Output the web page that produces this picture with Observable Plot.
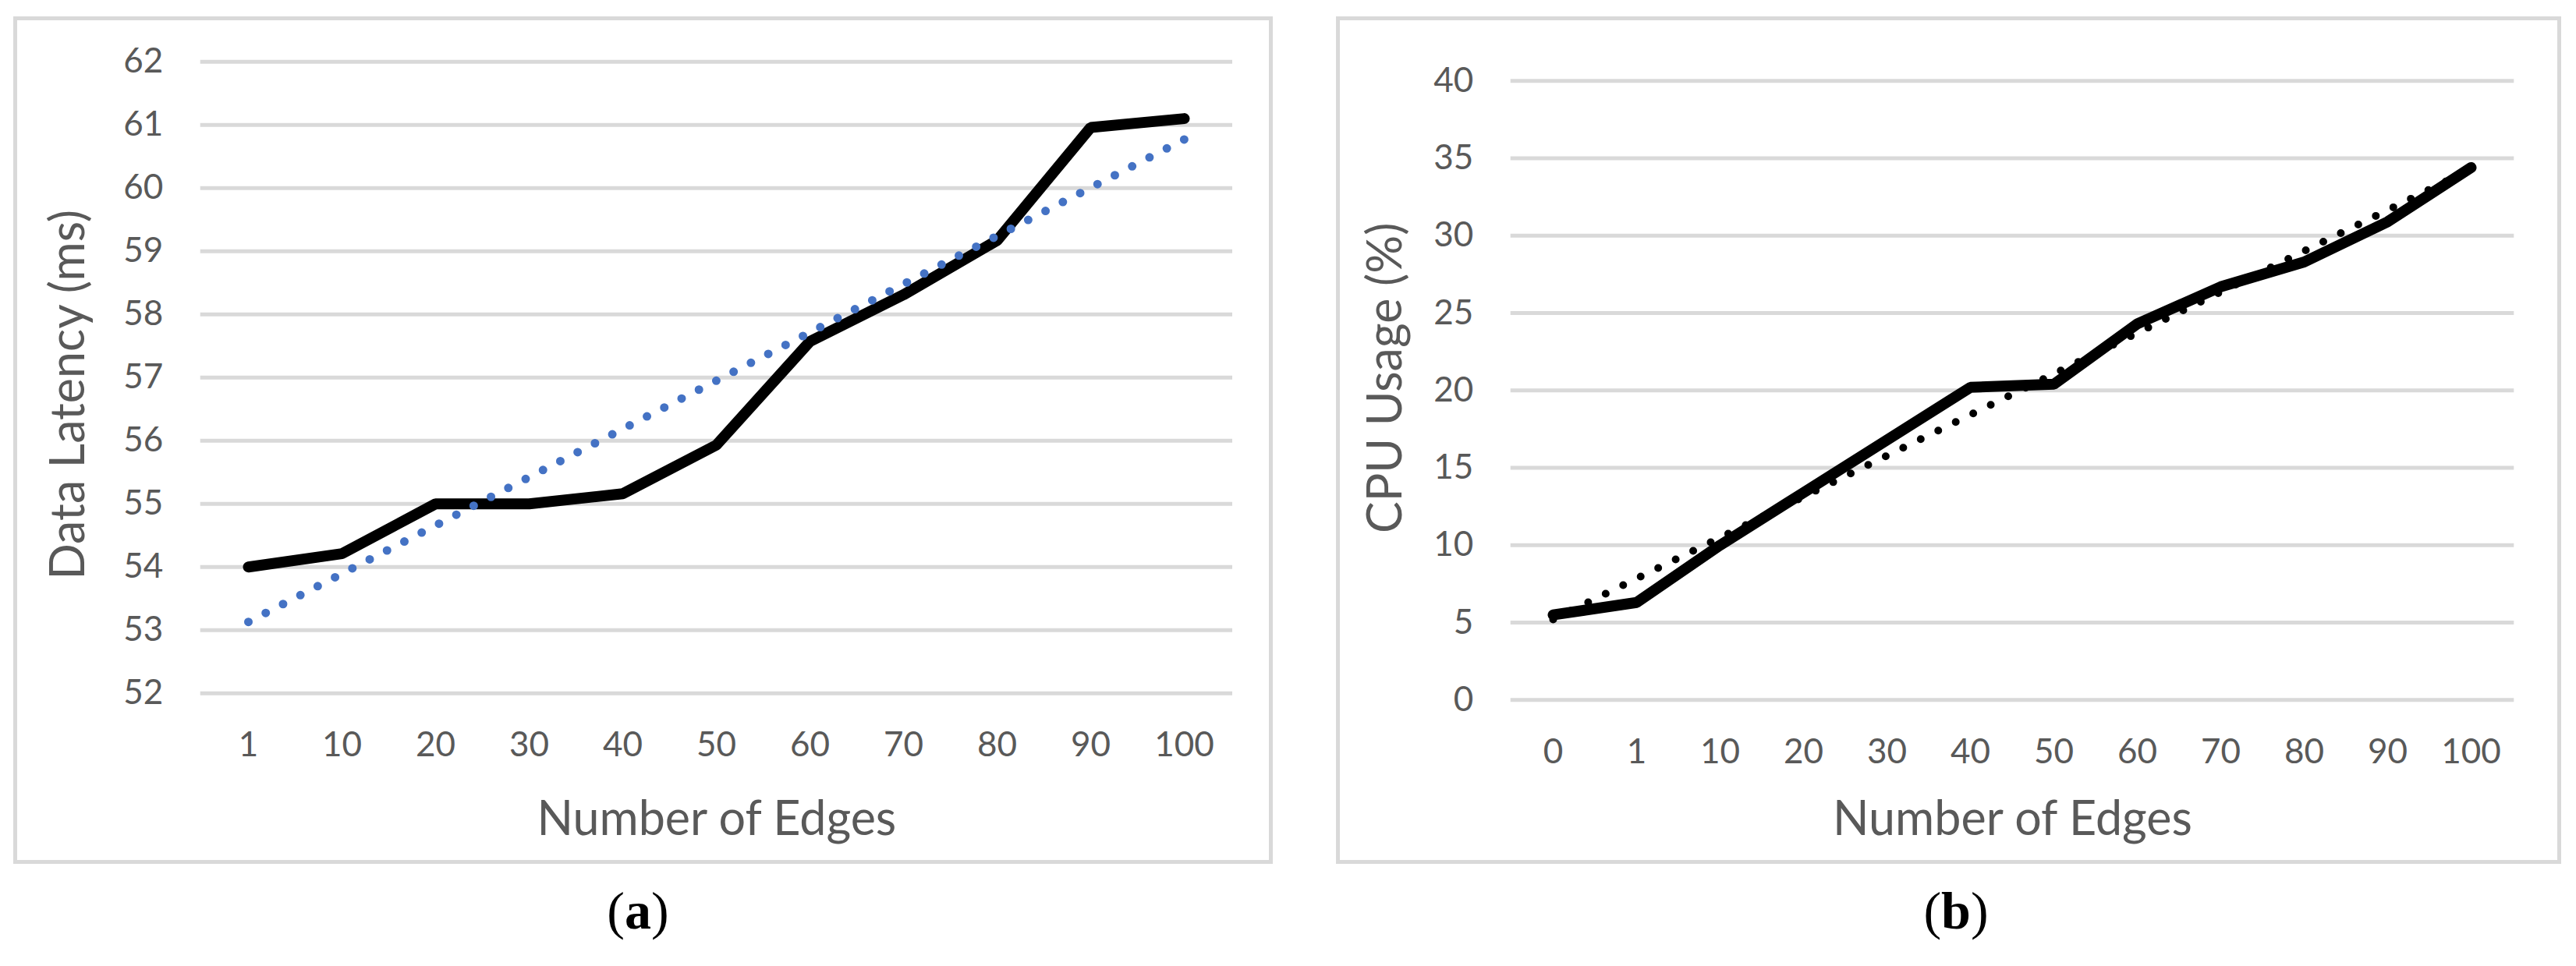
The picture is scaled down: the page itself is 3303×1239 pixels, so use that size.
<!DOCTYPE html>
<html>
<head>
<meta charset="utf-8">
<script src="https://cdn.jsdelivr.net/npm/d3@7"></script>
<script src="https://cdn.jsdelivr.net/npm/@observablehq/plot@0.6"></script>
<style>
  html, body { margin: 0; padding: 0; background: #ffffff; }
  #page { position: relative; width: 3303px; height: 1239px; background: #ffffff; overflow: hidden; }
  .panel { position: absolute; box-sizing: border-box; border: 5px solid #d9d9d9; background: #ffffff; }
  .panel svg { position: absolute; left: 0; top: 0; overflow: visible; }
  .cap { position: absolute; transform: translate(-50%, -50%); font-family: "Liberation Serif", "DejaVu Serif", serif; font-size: 68px; color: #000; white-space: nowrap; }
</style>
</head>
<body>
<div id="page">
  <div id="panelA" class="panel" style="left:17px; top:21px; width:1615px; height:1087px;"></div>
  <div id="panelB" class="panel" style="left:1713px; top:21px; width:1571px; height:1087px;"></div>
  <div class="cap" style="left:818px; top:1168px;">(<b>a</b>)</div>
  <div class="cap" style="left:2508px; top:1168px;">(<b>b</b>)</div>
</div>
<script>
// ---- Data ----
const edgesA = ["1", "10", "20", "30", "40", "50", "60", "70", "80", "90", "100"];
const latencyA = [54.0, 54.21, 55.0, 55.0, 55.16, 55.93, 57.57, 58.31, 59.17, 60.96, 61.1];
const trendAEdges = ["1", "100"];
const trendAValues = [53.13, 60.77];
const yTicksA = [52, 53, 54, 55, 56, 57, 58, 59, 60, 61, 62];

const edgesB = ["0", "1", "10", "20", "30", "40", "50", "60", "70", "80", "90", "100"];
const cpuB = [5.5, 6.3, 10.0, 13.4, 16.8, 20.2, 20.4, 24.3, 26.7, 28.3, 30.9, 34.4];
const trendBEdges = ["0", "100"];
const trendBValues = [5.2, 34.3];
const yTicksB = [0, 5, 10, 15, 20, 25, 30, 35, 40];

const titleA = "Data Latency (ms)";
const titleB = "CPU Usage (%)";
const xTitle = "Number of Edges";

// ---- Build tables ----
const rowsA = edgesA.map((e, i) => ({edge: e, value: latencyA[i]}));
const trendA = trendAEdges.map((e, i) => ({edge: e, value: trendAValues[i]}));
const rowsB = edgesB.map((e, i) => ({edge: e, value: cpuB[i]}));
const trendB = trendBEdges.map((e, i) => ({edge: e, value: trendBValues[i]}));

const gray = "#595959";
const font = "Lato, 'Open Sans', sans-serif";

function panel({width, height, mL, mR, mT, mB, domainX, domainY, ticksY, rows, trend, trendColor, trendWidth, yTitle, yTitleDx, yTitleDy, xTitleDy}) {
  return Plot.plot({
    width, height,
    marginLeft: mL, marginRight: mR, marginTop: mT, marginBottom: mB,
    style: {fontFamily: font, background: "transparent", overflow: "visible"},
    x: {type: "point", domain: domainX, padding: 0.5},
    y: {domain: domainY},
    marks: [
      Plot.gridY(ticksY, {stroke: "#d9d9d9", strokeOpacity: 1, strokeWidth: 5}),
      Plot.axisY(ticksY, {tickSize: 0, tickPadding: 48, fontSize: 44, fill: gray, label: null, tickFormat: d => String(d)}),
      Plot.axisX({tickSize: 0, tickPadding: 50, fontSize: 44, fill: gray, label: null}),
      Plot.line(rows, {x: "edge", y: "value", stroke: "#000000", strokeWidth: 14, strokeLinecap: "round", strokeLinejoin: "miter"}),
      Plot.line(trend, {x: "edge", y: "value", stroke: trendColor, strokeWidth: trendWidth, strokeLinecap: "round", strokeDasharray: "0 25"}),
      Plot.text([yTitle], {text: d => d, frameAnchor: "left", textAnchor: "middle", lineAnchor: "middle", rotate: -90, dx: yTitleDx, dy: yTitleDy, fontSize: 61, fill: gray}),
      Plot.text([xTitle], {text: d => d, frameAnchor: "bottom", textAnchor: "middle", lineAnchor: "middle", dy: xTitleDy, fontSize: 61, fill: gray})
    ]
  });
}

const plotA = panel({
  width: 1605, height: 1077, mL: 234.7, mR: 47, mT: 52.7, mB: 214.3,
  domainX: edgesA, domainY: [52, 62], ticksY: yTicksA,
  rows: rowsA, trend: trendA, trendColor: "#4472c4", trendWidth: 11,
  yTitle: titleA, yTitleDx: -168.7, yTitleDy: 22, xTitleDy: 162
});
document.getElementById("panelA").appendChild(plotA);

const plotB = panel({
  width: 1561, height: 1077, mL: 218.7, mR: 55.7, mT: 77.3, mB: 205.7,
  domainX: edgesB, domainY: [0, 40], ticksY: yTicksB,
  rows: rowsB, trend: trendB, trendColor: "#000000", trendWidth: 10,
  yTitle: titleB, yTitleDx: -159.7, yTitleDy: -16, xTitleDy: 154
});
document.getElementById("panelB").appendChild(plotB);
</script>
</body>
</html>
